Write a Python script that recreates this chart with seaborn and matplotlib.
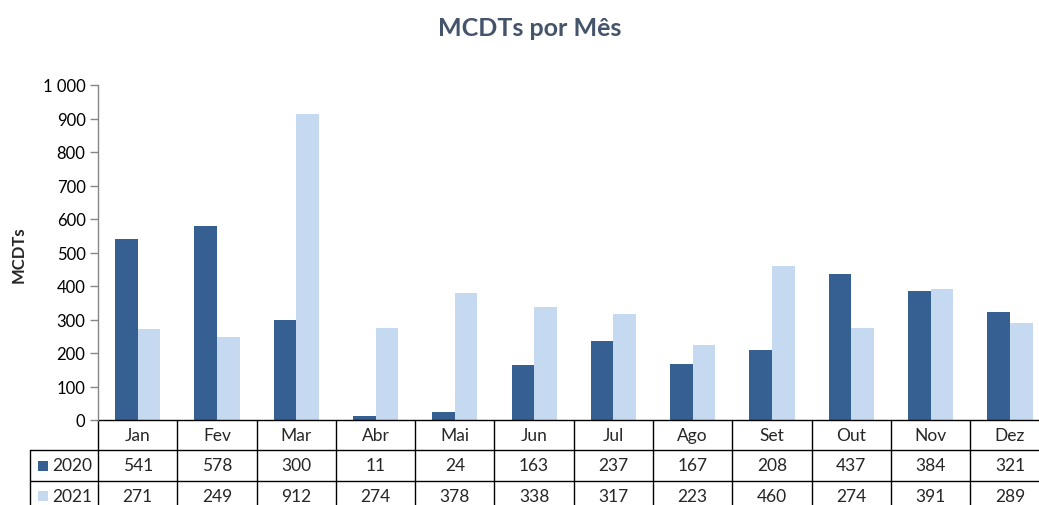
import numpy as np
import pandas as pd
import matplotlib
matplotlib.use('Agg')
import matplotlib.pyplot as plt
from matplotlib.patches import Rectangle
import seaborn as sns

# ---- data ----
months = ['Jan', 'Fev', 'Mar', 'Abr', 'Mai', 'Jun', 'Jul', 'Ago', 'Set', 'Out', 'Nov', 'Dez']
v2020 = [541, 578, 300, 11, 24, 163, 237, 167, 208, 437, 384, 321]
v2021 = [271, 249, 912, 274, 378, 338, 317, 223, 460, 274, 391, 289]
series = ['2020', '2021']
colors = ['#366092', '#C5D9F1']
yticks = [0, 100, 200, 300, 400, 500, 600, 700, 800, 900, 1000]
title = 'MCDTs por Mês'
ylabel = 'MCDTs'

sns.set_style('white')
plt.rcParams['font.family'] = ['Lato', 'DejaVu Sans']

W, H = 1039, 506
fig = plt.figure(figsize=(W / 100, H / 100), dpi=100)
colw = 79.3
ax = fig.add_axes([98 / W, 1 - 421 / H, colw * 12 / W, 335 / H])

df = pd.DataFrame({
    'Mês': months * 2,
    'Valor': v2020 + v2021,
    'Ano': [series[0]] * len(months) + [series[1]] * len(months),
})
sns.barplot(data=df, x='Mês', y='Valor', hue='Ano', palette=colors, width=0.57,
            saturation=1, ax=ax, legend=False, errorbar=None, linewidth=0)

ax.set_xlim(-0.5, len(months) - 0.5)
ax.set_ylim(0, 1000)
ax.set_yticks(yticks)
ax.set_yticklabels([f"{v:,}".replace(',', ' ') for v in yticks])
ax.set_xticks([])
ax.set_xlabel('')
ax.set_ylabel('')
for s in ['top', 'right', 'bottom']:
    ax.spines[s].set_visible(False)
ax.spines['left'].set_color('#868686')
ax.spines['left'].set_linewidth(1)
ax.tick_params(axis='y', left=True, direction='out', length=6, width=1,
               color='#868686', labelsize=12, pad=3, labelcolor='#000000')

# ---- data table ----
tr = ax.get_xaxis_transform()
def fy(py):
    return (421 - py) / 335.0

x_lab = -0.5 + (30 - 98) / colw
rows = [421, 451, 481.5, 512]
lc = '#000000'
lw = 1.0
n = len(months)
ax.plot([-0.5, n - 0.5], [fy(rows[0])] * 2, transform=tr, color=lc, lw=lw, clip_on=False)
for r in rows[1:]:
    ax.plot([x_lab, n - 0.5], [fy(r)] * 2, transform=tr, color=lc, lw=lw, clip_on=False)
for i in range(n + 1):
    ax.plot([i - 0.5] * 2, [fy(rows[0]), fy(rows[-1])], transform=tr, color=lc, lw=lw, clip_on=False)
ax.plot([x_lab] * 2, [fy(rows[1]), fy(rows[-1])], transform=tr, color=lc, lw=lw, clip_on=False)

fs = 12.5
for i, m in enumerate(months):
    ax.text(i, fy(436), m, transform=tr, ha='center', va='center', fontsize=fs, clip_on=False)
    ax.text(i, fy(466.5), str(v2020[i]), transform=tr, ha='center', va='center', fontsize=fs, clip_on=False)
    ax.text(i, fy(497), str(v2021[i]), transform=tr, ha='center', va='center', fontsize=fs, clip_on=False)

for k, (lab, c) in enumerate(zip(series, colors)):
    cy = 466.5 + k * 30.5
    fig.patches.append(Rectangle((38 / W, 1 - (cy + 5) / H), 10 / W, 10 / H,
                                 transform=fig.transFigure, facecolor=c, edgecolor='none'))
    fig.text(52 / W, 1 - cy / H, lab, ha='left', va='center', fontsize=fs)

fig.text(530 / W, 1 - 28 / H, title, ha='center', va='center', fontsize=18,
         fontweight='bold', color='#44546A')
fig.text(18.5 / W, 1 - 255 / H, ylabel, rotation=90, ha='center', va='center',
         fontsize=12, fontweight='bold')

fig.savefig('out.png', dpi=100)
